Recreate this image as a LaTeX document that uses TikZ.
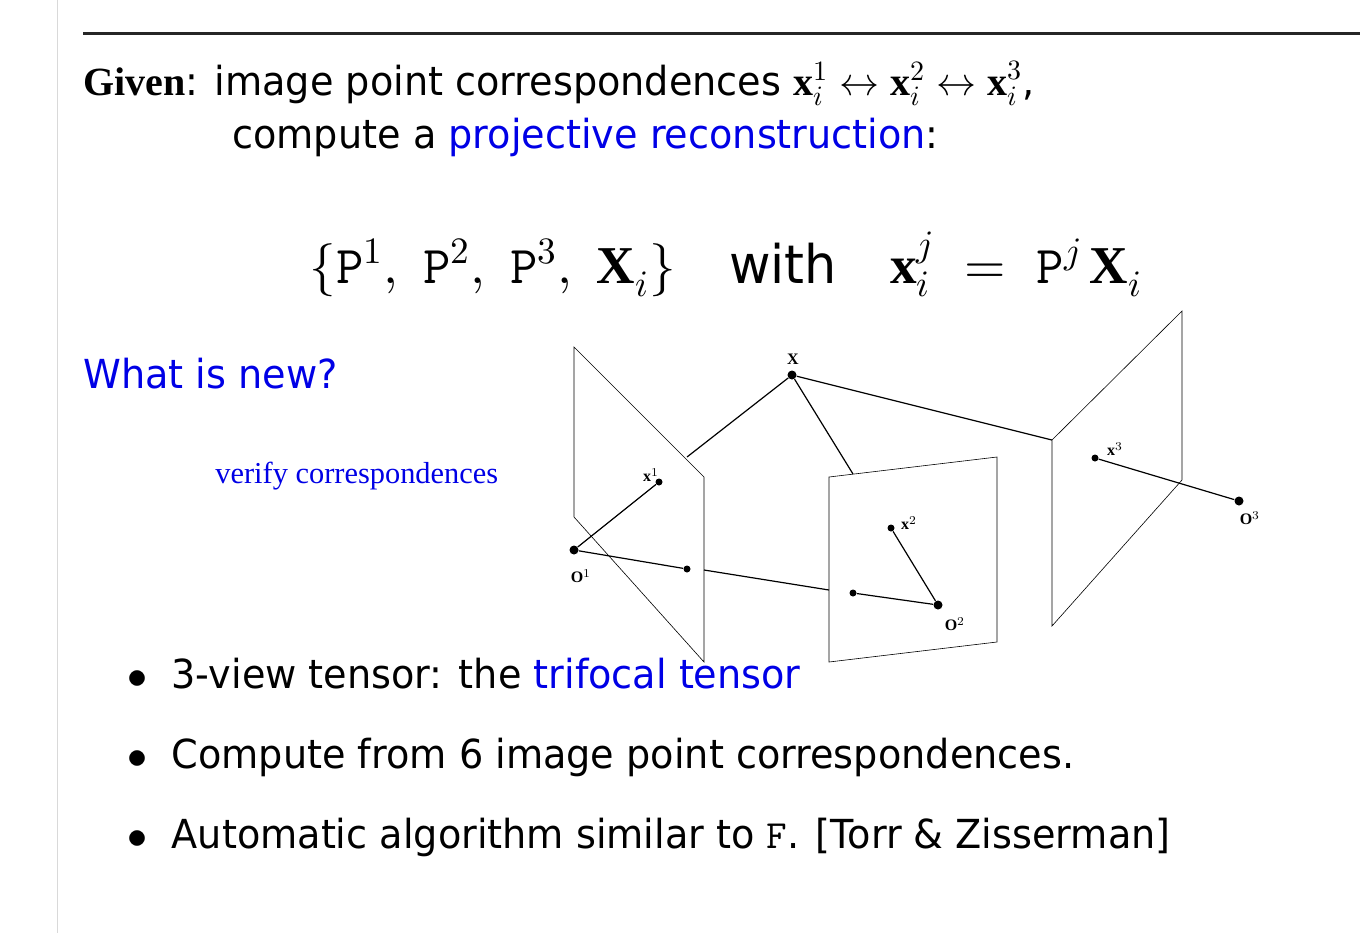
\documentclass[tikz,border=0pt]{standalone}
\usepackage{amsmath}
\usepackage{fontspec}
\setsansfont{DejaVu Sans}[FakeStretch=0.955]
\setmainfont{Liberation Serif}
\usepackage{unicode-math}
\setmathfont{Latin Modern Math}
\definecolor{tblue}{RGB}{0,0,230}
\begin{document}
\begin{tikzpicture}[x=0.5pt,y=-0.5pt,
  txt/.style={anchor=base west,inner sep=0,font=\sffamily\fontsize{20}{24}\selectfont},
  plane/.style={draw,line width=0.3pt},
  ray/.style={draw,line width=0.6pt},
  pt/.style={circle,fill,inner sep=0,minimum size=4.5pt},
  spt/.style={circle,fill,inner sep=0,minimum size=3.5pt},
  lab/.style={inner sep=0,font=\bfseries\fontsize{8}{9}\selectfont}]
\useasboundingbox (0,0) rectangle (1360,933);
\fill[white] (0,0) rectangle (1360,933);
\draw[gray!30,line width=0.4pt] (57,0) -- (57,933);
\draw[black!85,line width=1.5pt] (83,33) -- (1360,33);
% text
\node[txt] (g1) at (83,95) {\textrm{\textbf{Given}}: image point correspondences $\mathbf{x}_i^1\leftrightarrow\mathbf{x}_i^2\leftrightarrow\mathbf{x}_i^3$,};
\node[txt] (g2) at (232,148) {compute a \textcolor{tblue}{projective reconstruction}:};
\node[anchor=base,inner sep=0,font=\sffamily\fontsize{26.6}{32}\selectfont] (eq) at (726,283)
  {$\{\mathtt{P}^1,\ \mathtt{P}^2,\ \mathtt{P}^3,\ \mathbf{X}_i\}$\quad with\quad $\mathbf{x}_i^j\ =\ \mathtt{P}^j\,\mathbf{X}_i$};
\node[txt,text=tblue] (new) at (83,388) {What is new?};
\node[anchor=base west,inner sep=0,text=tblue,font=\fontsize{15.2}{17}\selectfont] (ver) at (215,483) {verify correspondences};
\node[txt] (b1) at (127,688) {$\bullet$\ \ 3-view tensor: the \textcolor{tblue}{trifocal tensor}};
\node[txt] (b2) at (127,768) {$\bullet$\ \ Compute from 6 image point correspondences.};
\node[txt] (b3) at (127,848) {$\bullet$\ \ Automatic algorithm similar to $\mathtt{F}$. [Torr \& Zisserman]};
% planes
\draw[plane] (574,347) -- (704,477) -- (704,662) -- (574,517) -- cycle;
\draw[plane] (829,477) -- (997,457) -- (997,642) -- (829,662) -- cycle;
\draw[plane] (1052,440) -- (1182,311) -- (1182,480) -- (1052,626) -- cycle;
% points
\node[pt] (X) at (792,375) {};
\node[spt] (x1) at (659,482) {};
\node[pt] (O1) at (574,550) {};
\node[spt] (d1) at (687,569) {};
\node[spt] (x2) at (891,528) {};
\node[pt] (O2) at (938,605) {};
\node[spt] (d2) at (853,593) {};
\node[spt] (x3) at (1095,458) {};
\node[pt] (O3) at (1239,501) {};
\coordinate (e1) at (687,457);
\coordinate (e2) at (853,474);
\coordinate (e3) at (1052,440);
\coordinate (f1) at (704,570);
\coordinate (f2) at (829,590);
\draw[ray] (X) -- (e1);
\draw[ray] (X) -- (e2);
\draw[ray] (X) -- (e3);
\draw[ray] (O1) -- (x1);
\draw[ray] (O1) -- (d1);
\draw[ray] (f1) -- (f2);
\draw[ray] (O2) -- (x2);
\draw[ray] (O2) -- (d2);
\draw[ray] (O3) -- (x3);
% labels
\node[lab] (lX) at (793,359) {X};
\node[lab] (l1) at (651,475) {x$^{1}$};
\node[lab] (lO1) at (581,576) {O$^{1}$};
\node[lab] (l2) at (909,523) {x$^{2}$};
\node[lab] (lO2) at (955,624) {O$^{2}$};
\node[lab] (l3) at (1115,449) {x$^{3}$};
\node[lab] (lO3) at (1250,518) {O$^{3}$};
\end{tikzpicture}
\end{document}
